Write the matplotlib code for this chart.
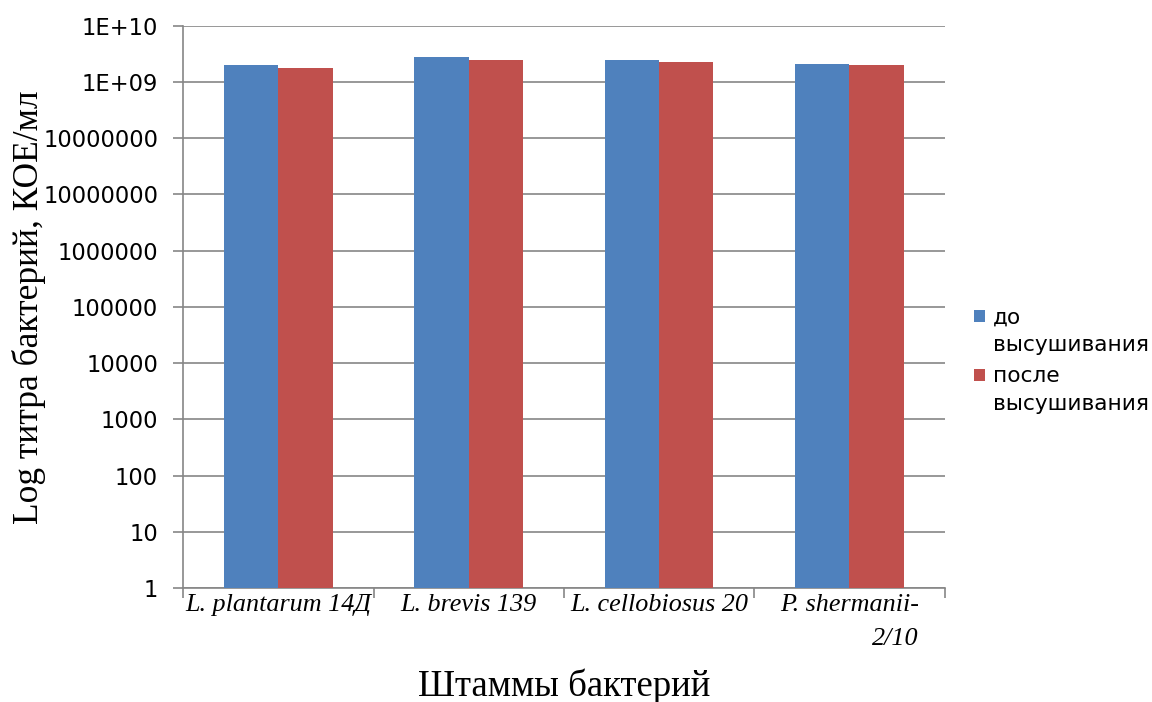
import numpy as np
import matplotlib
matplotlib.use("Agg")
from matplotlib import pyplot as plt
from matplotlib.ticker import FixedLocator, FixedFormatter
from matplotlib.legend_handler import HandlerPatch, update_from_first_child
from matplotlib.container import BarContainer
from matplotlib.patches import Rectangle

# data
strains = ["L. plantarum 14Д", "L. brevis 139", "L. cellobiosus 20", "P. shermanii-\n2/10"]
before = [1.98e9, 2.75e9, 2.46e9, 2.07e9]
after = [1.78e9, 2.46e9, 2.27e9, 2.0e9]
series_names = ["до\nвысушивания", "после\nвысушивания"]
ytick_vals = [1, 10, 100, 1000, 1e4, 1e5, 1e6, 1e7, 1e8, 1e9, 1e10]
ytick_text = ["1", "10", "100", "1000", "10000", "100000", "1000000",
              "10000000", "10000000", "1E+09", "1E+10"]

blue = "#4F81BD"
red = "#C0504D"
grey = "#868686"

fig = plt.figure(figsize=(11.52, 7.02), dpi=100)
ax = fig.add_axes([0.159, 0.1624, 0.661, 0.801])

x = np.arange(len(strains))
w = 1 / 3.5
ax.bar(x - w / 2, before, w, color=blue, label=series_names[0], zorder=3)
ax.bar(x + w / 2, after, w, color=red, label=series_names[1], zorder=3)

ax.set_yscale("log")
ax.set_ylim(1, 1e10)
ax.set_xlim(-0.5, len(strains) - 0.5)
ax.yaxis.set_major_locator(FixedLocator(ytick_vals))
ax.yaxis.set_major_formatter(FixedFormatter(ytick_text))
ax.yaxis.set_minor_locator(FixedLocator([]))
ax.grid(axis="y", color=grey, linewidth=1.2, zorder=0)
ax.set_axisbelow(True)

# category labels between boundary ticks
ax.set_xticks(np.arange(-0.5, len(strains), 1.0))
ax.set_xticklabels([])
ax.set_xticks(x, minor=True)
ax.set_xticklabels(strains, minor=True, fontfamily="Liberation Serif",
                   style="italic", fontsize=18.8)
for lab in ax.get_xticklabels(minor=True):
    lab.set_multialignment("right")
    lab.set_linespacing(1.75)
ax.tick_params(axis="x", which="minor", length=0, pad=4)
ax.tick_params(axis="x", which="major", length=7, width=1.2, color=grey)
ax.tick_params(axis="y", length=7, width=1.2, color=grey, labelsize=16.3, pad=11)

for s in ["top", "right"]:
    ax.spines[s].set_visible(False)
for s in ["left", "bottom"]:
    ax.spines[s].set_color(grey)
    ax.spines[s].set_linewidth(1.2)

ax.set_ylabel("Log титра бактерий, КОЕ/мл", fontfamily="Liberation Serif",
              fontsize=25.5)
ax.yaxis.set_label_coords(-0.18, 0.5)
ax.set_xlabel("Штаммы бактерий", fontfamily="Liberation Serif", fontsize=26.5)
ax.xaxis.set_label_coords(0.501, -0.143)


def top_square(legend, orig_handle, xdescent, ydescent, width, height, fontsize):
    return Rectangle((-xdescent, -ydescent + 0.72 * fontsize), width, height)


leg = ax.legend(loc="center left", bbox_to_anchor=(1.013, 0.404), frameon=False,
                fontsize=15.6, handlelength=0.52, handleheight=0.52,
                handletextpad=0.35, labelspacing=0.5,
                handler_map={BarContainer: HandlerPatch(patch_func=top_square,
                                                        update_func=update_from_first_child)})
for t in leg.get_texts():
    t.set_linespacing(1.5)

fig.savefig("out.png", dpi=100)
